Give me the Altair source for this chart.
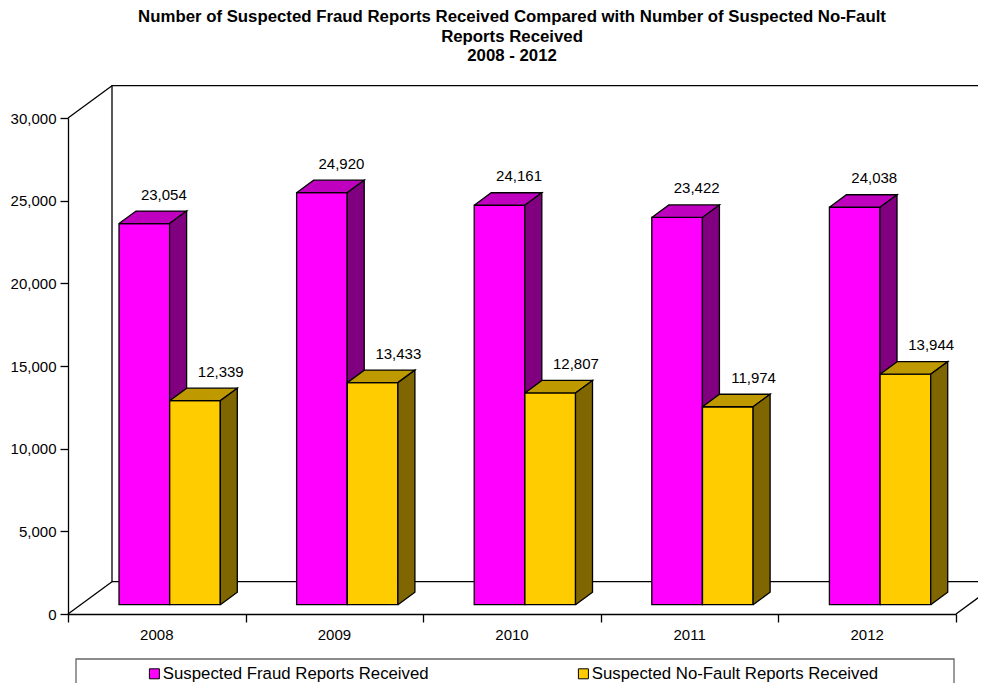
import altair as alt
import pandas as pd

# ---------------- data ----------------
YEARS = ["2008", "2009", "2010", "2011", "2012"]
FRAUD = [23054, 24920, 24161, 23422, 24038]
NOFAULT = [12339, 13433, 12807, 11974, 13944]
SERIES = ["Suspected Fraud Reports Received", "Suspected No-Fault Reports Received"]
Y_TICKS = [0, 5000, 10000, 15000, 20000, 25000, 30000]
TITLE = ["Number of Suspected Fraud Reports Received Compared with Number of Suspected No-Fault",
         "Reports Received", "2008 - 2012"]

# ---------------- styles / geometry (scale units) ----------------
FONT = "Liberation Sans"
FRONT = ["#FF00FF", "#FFCC00"]
TOPC = ["#BF00BF", "#BF9900"]
SIDEC = ["#800080", "#806600"]
W, H = 888, 496
X_DOM = [-0.5, len(YEARS) - 0.5]
Y_DOM = [0, 30000]
BAR_START = [-0.2128, 0.0726]
BAR_W = 0.285
BAR_DX = 17 / (W / len(YEARS))
BAR_DY = 12.5 * Y_DOM[1] / H
BASE = 9.3 * Y_DOM[1] / H
WALL_DX = 44 / (W / len(YEARS))
WALL_DY = 32.3 * Y_DOM[1] / H
LABEL_DX = [0.11, 0.145]

bars, faces = [], []
for i, yr in enumerate(YEARS):
    for s, vals in enumerate([FRAUD, NOFAULT]):
        v = vals[i]
        xl = i + BAR_START[s]
        xr = xl + BAR_W
        yt = BASE + v
        bars.append(dict(s=s, series=SERIES[s], xl=xl, xr=xr, yb=BASE, yt=yt,
                         lx=(xl + xr) / 2 + LABEL_DX[s], label=f"{v:,}"))
        top_pts = [(xl, yt), (xr, yt), (xr + BAR_DX, yt + BAR_DY), (xl + BAR_DX, yt + BAR_DY), (xl, yt)]
        side_pts = [(xr, BASE), (xr + BAR_DX, BASE + BAR_DY), (xr + BAR_DX, yt + BAR_DY), (xr, yt), (xr, BASE)]
        for face, pts in (("top", top_pts), ("side", side_pts)):
            for o, (px, py) in enumerate(pts):
                faces.append(dict(id=f"{yr}-{s}-{face}", s=s, face=face, x=px, y=py, o=o))
bars = pd.DataFrame(bars)
faces = pd.DataFrame(faces)

# 3-D frame (back wall, floor edges) built from the axis domains
x0, x1 = X_DOM
y0, y1 = Y_DOM
x_end = x1 + WALL_DX
frame_paths = {
    "wall": [(x_end, y1 + WALL_DY), (x0 + WALL_DX, y1 + WALL_DY),
             (x0 + WALL_DX, y0 + WALL_DY), (x_end, y0 + WALL_DY)],
    "diag_tl": [(x0, y1), (x0 + WALL_DX, y1 + WALL_DY)],
    "diag_bl": [(x0, y0), (x0 + WALL_DX, y0 + WALL_DY)],
    "diag_br": [(x1, y0), (x1 + WALL_DX, y0 + WALL_DY)],
}
frame = pd.DataFrame([dict(id=k, o=o, x=px, y=py)
                      for k, pts in frame_paths.items() for o, (px, py) in enumerate(pts)])
years_df = pd.DataFrame(dict(idx=list(range(len(YEARS))), year=YEARS))

xs = alt.Scale(domain=X_DOM, nice=False, zero=False)
ys = alt.Scale(domain=Y_DOM, nice=False, zero=False)
XAX = alt.Axis(values=[v - 0.5 for v in range(len(YEARS) + 1)], labels=False, grid=False,
               tickSize=8)
YAX = alt.Axis(values=Y_TICKS, format=",", labelExpr="format(datum.value, ',')", grid=False,
               tickSize=8, labelPadding=4, labelFontSize=15, labelFont=FONT, labelColor="black")


def X(f):
    return alt.X(f, scale=xs, axis=XAX, title=None)


def Y(f):
    return alt.Y(f, scale=ys, axis=YAX, title=None)


frame_layer = alt.Chart(frame).mark_line(color="black", strokeWidth=1.3, strokeJoin="miter").encode(
    x=X("x:Q"), y=Y("y:Q"), detail="id:N", order="o:Q")

layers = [frame_layer]
for s in range(2):
    front = alt.Chart(bars).transform_filter(f"datum.s == {s}").mark_rect(
        stroke="black", strokeWidth=1.3, opacity=1).encode(
        x=X("xl:Q"), x2="xr:Q",
        y=Y("yb:Q"), y2="yt:Q",
        color=alt.Color("series:N", scale=alt.Scale(domain=SERIES, range=FRONT),
                        legend=alt.Legend(orient="none", legendX=78, legendY=547,
                                          direction="horizontal", title=None,
                                          symbolType="square", symbolSize=100,
                                          symbolStrokeColor="black", symbolStrokeWidth=1,
                                          symbolOpacity=1,
                                          labelFontSize=16.8, labelFont=FONT, labelColor="black",
                                          labelOffset=0, columnPadding=146, padding=0,
                                          labelLimit=0)),
    )
    layers.append(front)
    for face, col in (("top", TOPC[s]), ("side", SIDEC[s])):
        poly = alt.Chart(faces).transform_filter(
            f"datum.s == {s} && datum.face == '{face}'").mark_line(
            fill=col, fillOpacity=1, stroke="black", strokeWidth=1.3, strokeJoin="miter").encode(
            x=X("x:Q"), y=Y("y:Q"), detail="id:N", order="o:Q")
        layers.append(poly)

labels = alt.Chart(bars).mark_text(fontSize=15, font=FONT, color="black", dy=-29,
                                   baseline="middle").encode(
    x=X("lx:Q"), y=Y("yt:Q"), text="label:N")
year_text = alt.Chart(years_df).mark_text(fontSize=15, font=FONT, color="black", dy=20.5,
                                          baseline="middle").encode(
    x=X("idx:Q"), y=alt.datum(0, scale=ys, axis=YAX), text="year:N")
legend_box = alt.Chart(pd.DataFrame({"a": [0]})).mark_rect(
    fill="transparent", stroke="#666666", strokeWidth=1.3).encode(
    x=alt.value(8), x2=alt.value(886), y=alt.value(541), y2=alt.value(620))

layers += [labels, year_text, legend_box]

chart = alt.layer(*layers).properties(
    width=W, height=H,
    padding={"left": 60, "top": 110, "right": 22, "bottom": 69},
    autosize=alt.AutoSizeParams(type="none"),
    title=alt.TitleParams(text=TITLE, font=FONT, fontSize=16.8, fontWeight="bold",
                          color="black", anchor="middle", frame="group", offset=18,
                          lineHeight=19.5),
).configure_view(stroke=None).configure_axis(
    labelFont=FONT, labelFontSize=15, labelColor="black", domainColor="black",
    tickColor="black", domainWidth=1.3, tickWidth=1.3, grid=False,
)

chart.save("out.html", embed_options={"renderer": "svg", "actions": False})
